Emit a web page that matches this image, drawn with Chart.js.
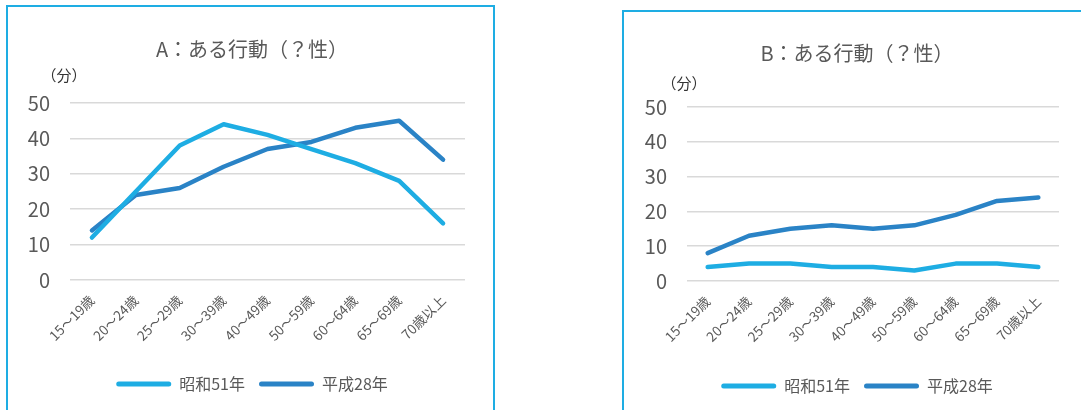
<!DOCTYPE html>
<html>
<head>
<meta charset="utf-8">
<script src="https://cdn.jsdelivr.net/npm/chart.js@4.4.1/dist/chart.umd.min.js"></script>
<style>
  body { margin: 0; background: #fff; width: 1081px; height: 410px; overflow: hidden; position: relative; }
  .frame { position: absolute; border: 2px solid #1eade3; box-sizing: border-box; }
  .wrap { position: absolute; }
</style>
</head>
<body>
<div class="frame" style="left:6px; top:5px; width:489px; height:430px;"></div>
<div class="frame" style="left:622px; top:10px; width:480px; height:430px;"></div>
<div class="wrap" style="left:9px; top:7px; width:484px; height:403px;"><canvas id="chartA"></canvas></div>
<div class="wrap" style="left:625px; top:13px; width:456px; height:397px;"><canvas id="chartB"></canvas></div>
<script>
// categories
const ageGroups = ['15～19歳', '20～24歳', '25～29歳', '30～39歳', '40～49歳', '50～59歳', '60～64歳', '65～69歳', '70歳以上'];
const seriesNames = ['昭和51年', '平成28年'];

// A chart values (minutes)
const showaA = [12, 25, 38, 44, 41, 37, 33, 28, 16];
const heiseiA = [14, 24, 26, 32, 37, 39, 43, 45, 34];

// B chart values (minutes)
const showaB = [4, 5, 5, 4, 4, 3, 5, 5, 4];
const heiseiB = [8, 13, 15, 16, 15, 16, 19, 23, 24];

// y axis ticks
const yMin = 0, yMax = 50, yStep = 10;
const unitLabel = '（分）';

const lightBlue = '#1eade3';
const darkBlue = '#2a83c6';
const textGray = '#595959';

Chart.defaults.font.family = "'Noto Sans CJK JP', 'Noto Sans', sans-serif";
Chart.defaults.color = textGray;

// draws the "(分)" unit above the y axis
const unitPlugin = {
  id: 'unit',
  afterDraw(chart, args, opts) {
    const ctx = chart.ctx;
    ctx.save();
    ctx.font = "15px 'Noto Sans CJK JP'";
    ctx.fillStyle = '#333';
    ctx.textAlign = 'center';
    ctx.textBaseline = 'middle';
    ctx.fillText(unitLabel, opts.x, opts.y);
    ctx.restore();
  }
};

// nudges title and legend sideways (they sit a bit right of centre in the original)
const nudgePlugin = {
  id: 'nudge',
  afterLayout(chart, args, opts) {
    [chart.titleBlock, chart.legend].forEach(box => {
      if (box) { box.left += opts.dx; box.right += opts.dx; }
    });
  }
};

function makeChart(id, title, showa, heisei, cfg) {
  const ctx = document.getElementById(id);
  return new Chart(ctx, {
    type: 'line',
    data: {
      labels: ageGroups,
      datasets: [
        { label: seriesNames[0], data: showa, borderColor: lightBlue, backgroundColor: lightBlue },
        { label: seriesNames[1], data: heisei, borderColor: darkBlue, backgroundColor: darkBlue }
      ]
    },
    options: {
      responsive: true,
      maintainAspectRatio: false,
      animation: false,
      layout: { padding: { left: cfg.padLeft, right: cfg.padRight, top: 0, bottom: cfg.padBottom } },
      elements: {
        line: { borderWidth: 4.5, tension: 0, borderCapStyle: 'round', borderJoinStyle: 'round' },
        point: { radius: 0, hoverRadius: 0 }
      },
      plugins: {
        title: {
          display: true,
          text: title,
          color: textGray,
          font: { size: 20, weight: 'normal' },
          padding: { top: cfg.titleTop, bottom: cfg.titleBottom }
        },
        legend: {
          position: 'bottom',
          labels: {
            boxWidth: 55,
            boxHeight: 5,
            useBorderRadius: true,
            borderRadius: 2.5,
            padding: 14,
            color: textGray,
            font: { size: 16 },
            generateLabels(chart) {
              const items = Chart.defaults.plugins.legend.labels.generateLabels(chart);
              items.forEach(it => { it.lineWidth = 0; });
              return items;
            }
          }
        },
        tooltip: { enabled: false },
        unit: { x: cfg.unitX, y: cfg.unitY },
        nudge: { dx: cfg.nudge }
      },
      scales: {
        x: {
          offset: true,
          grid: { display: false },
          border: { display: false },
          ticks: { minRotation: 45, maxRotation: 45, font: { size: 13.5 }, color: textGray, padding: 4 },
          afterFit(scale) { scale.height = cfg.xHeight; }
        },
        y: {
          min: yMin,
          max: yMax,
          grid: { color: '#d9d9d9', lineWidth: 1.5, drawTicks: false },
          border: { display: false },
          ticks: { stepSize: yStep, font: { size: 20 }, color: textGray, padding: 20 },
          afterFit(scale) { scale.width = cfg.yWidth; }
        }
      }
    },
    plugins: [unitPlugin, nudgePlugin]
  });
}

makeChart('chartA', 'A：ある行動（？性）', showaA, heiseiA, {
  padLeft: 18, padRight: 28, padBottom: 8, yWidth: 43,
  titleTop: 30, titleBottom: 42, xHeight: 82,
  unitX: 55, unitY: 68, nudge: 6
});

makeChart('chartB', 'B：ある行動（？性）', showaB, heiseiB, {
  padLeft: 18, padRight: 22, padBottom: 6, yWidth: 44,
  titleTop: 28, titleBottom: 42, xHeight: 83,
  unitX: 59, unitY: 70, nudge: 6
});
</script>
</body>
</html>
